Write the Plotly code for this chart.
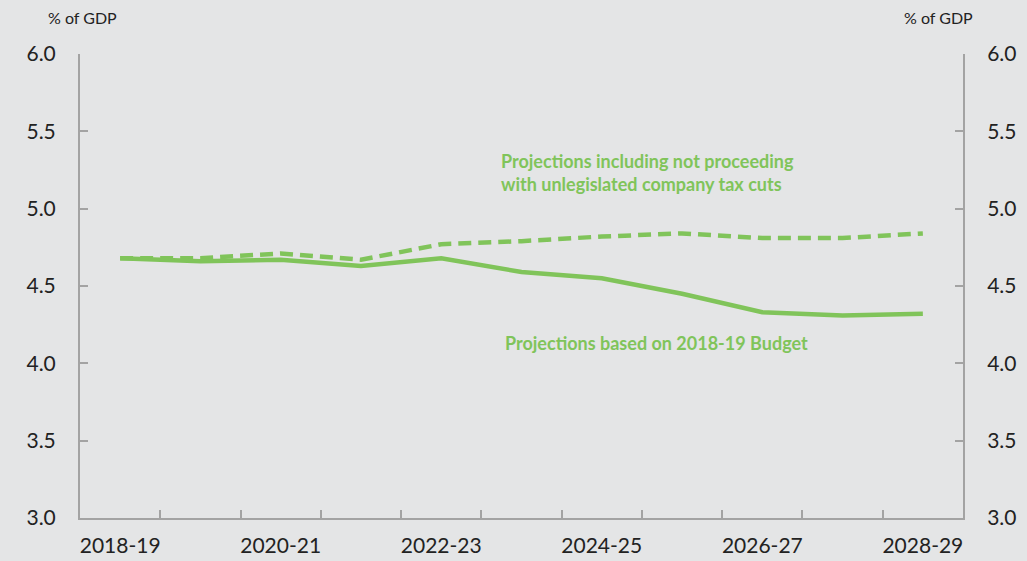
import plotly.graph_objects as go

# data (% of GDP)
years = ["2018-19", "2019-20", "2020-21", "2021-22", "2022-23", "2023-24",
         "2024-25", "2025-26", "2026-27", "2027-28", "2028-29"]
budget = [4.68, 4.66, 4.67, 4.63, 4.68, 4.59, 4.55, 4.45, 4.33, 4.31, 4.32]
no_tax_cuts = [4.68, 4.68, 4.71, 4.67, 4.77, 4.79, 4.82, 4.84, 4.81, 4.81, 4.84]

GREEN = "#80c45a"
AXIS = "#a3a3a3"
BG = "#e4e5e6"
FONT = "Lato, Open Sans, sans-serif"

# plot area in pixels (used to place the free text)
L, R, T, B = 80, 963, 54, 518
W, H = R - L, B - T

def px_x(x):
    return (x - L) / W

def px_y(y):
    return 1 - (y - T) / H

xs = list(range(len(years)))

fig = go.Figure()
fig.add_trace(go.Scatter(x=xs, y=no_tax_cuts, mode="lines",
                         line=dict(color=GREEN, width=4.5, dash="13px,7px")))
fig.add_trace(go.Scatter(x=xs, y=budget, mode="lines",
                         line=dict(color=GREEN, width=4.5)))
# invisible trace so the right axis gets drawn
fig.add_trace(go.Scatter(x=xs, y=budget, yaxis="y2", mode="lines",
                         line=dict(width=0), hoverinfo="skip"))

yax = dict(range=[3.0, 6.0], dtick=0.5, tickformat=".1f", showgrid=False,
           zeroline=False, showline=True, linecolor=AXIS, linewidth=2,
           ticks="inside", ticklen=8, tickwidth=2, tickcolor=AXIS,
           tickfont=dict(size=21, color="#222"), ticklabelstandoff=18,
           automargin=False)

fig.update_layout(
    width=1027, height=561,
    paper_bgcolor=BG, plot_bgcolor=BG,
    showlegend=False,
    margin=dict(l=L, r=1027 - R, t=T, b=561 - B),
    font=dict(family=FONT),
    xaxis=dict(range=[-0.5, 10.5], tickvals=xs[::2], ticktext=years[::2],
               showgrid=False, zeroline=False, showline=True, linecolor=AXIS,
               linewidth=2, ticks="", tickfont=dict(size=21, color="#222"),
               ticklabelstandoff=8, automargin=False,
               minor=dict(tickvals=[i + 0.5 for i in xs[:-1]], ticks="inside",
                          ticklen=8, tickwidth=2, tickcolor=AXIS)),
    yaxis=yax,
    yaxis2=dict(yax, overlaying="y", side="right"),
)

for xp in [46, 975]:
    fig.add_annotation(text="% of GDP", x=px_x(xp), y=px_y(18),
                       xref="paper", yref="paper", yanchor="middle",
                       showarrow=False, font=dict(size=16, color="#222"))

fig.add_annotation(text="<b>Projections including not proceeding<br>with unlegislated company tax cuts</b>",
                   x=px_x(499), y=px_y(172), xref="paper", yref="paper",
                   xanchor="left", yanchor="middle", showarrow=False,
                   align="left", font=dict(size=18, color=GREEN))
fig.add_annotation(text="<b>Projections based on 2018-19 Budget</b>",
                   x=px_x(503), y=px_y(343), xref="paper", yref="paper",
                   xanchor="left", yanchor="middle", showarrow=False,
                   font=dict(size=18, color=GREEN))

fig.write_html("out.html", config={"displayModeBar": False},
               post_script="document.body.style.margin='0';")
